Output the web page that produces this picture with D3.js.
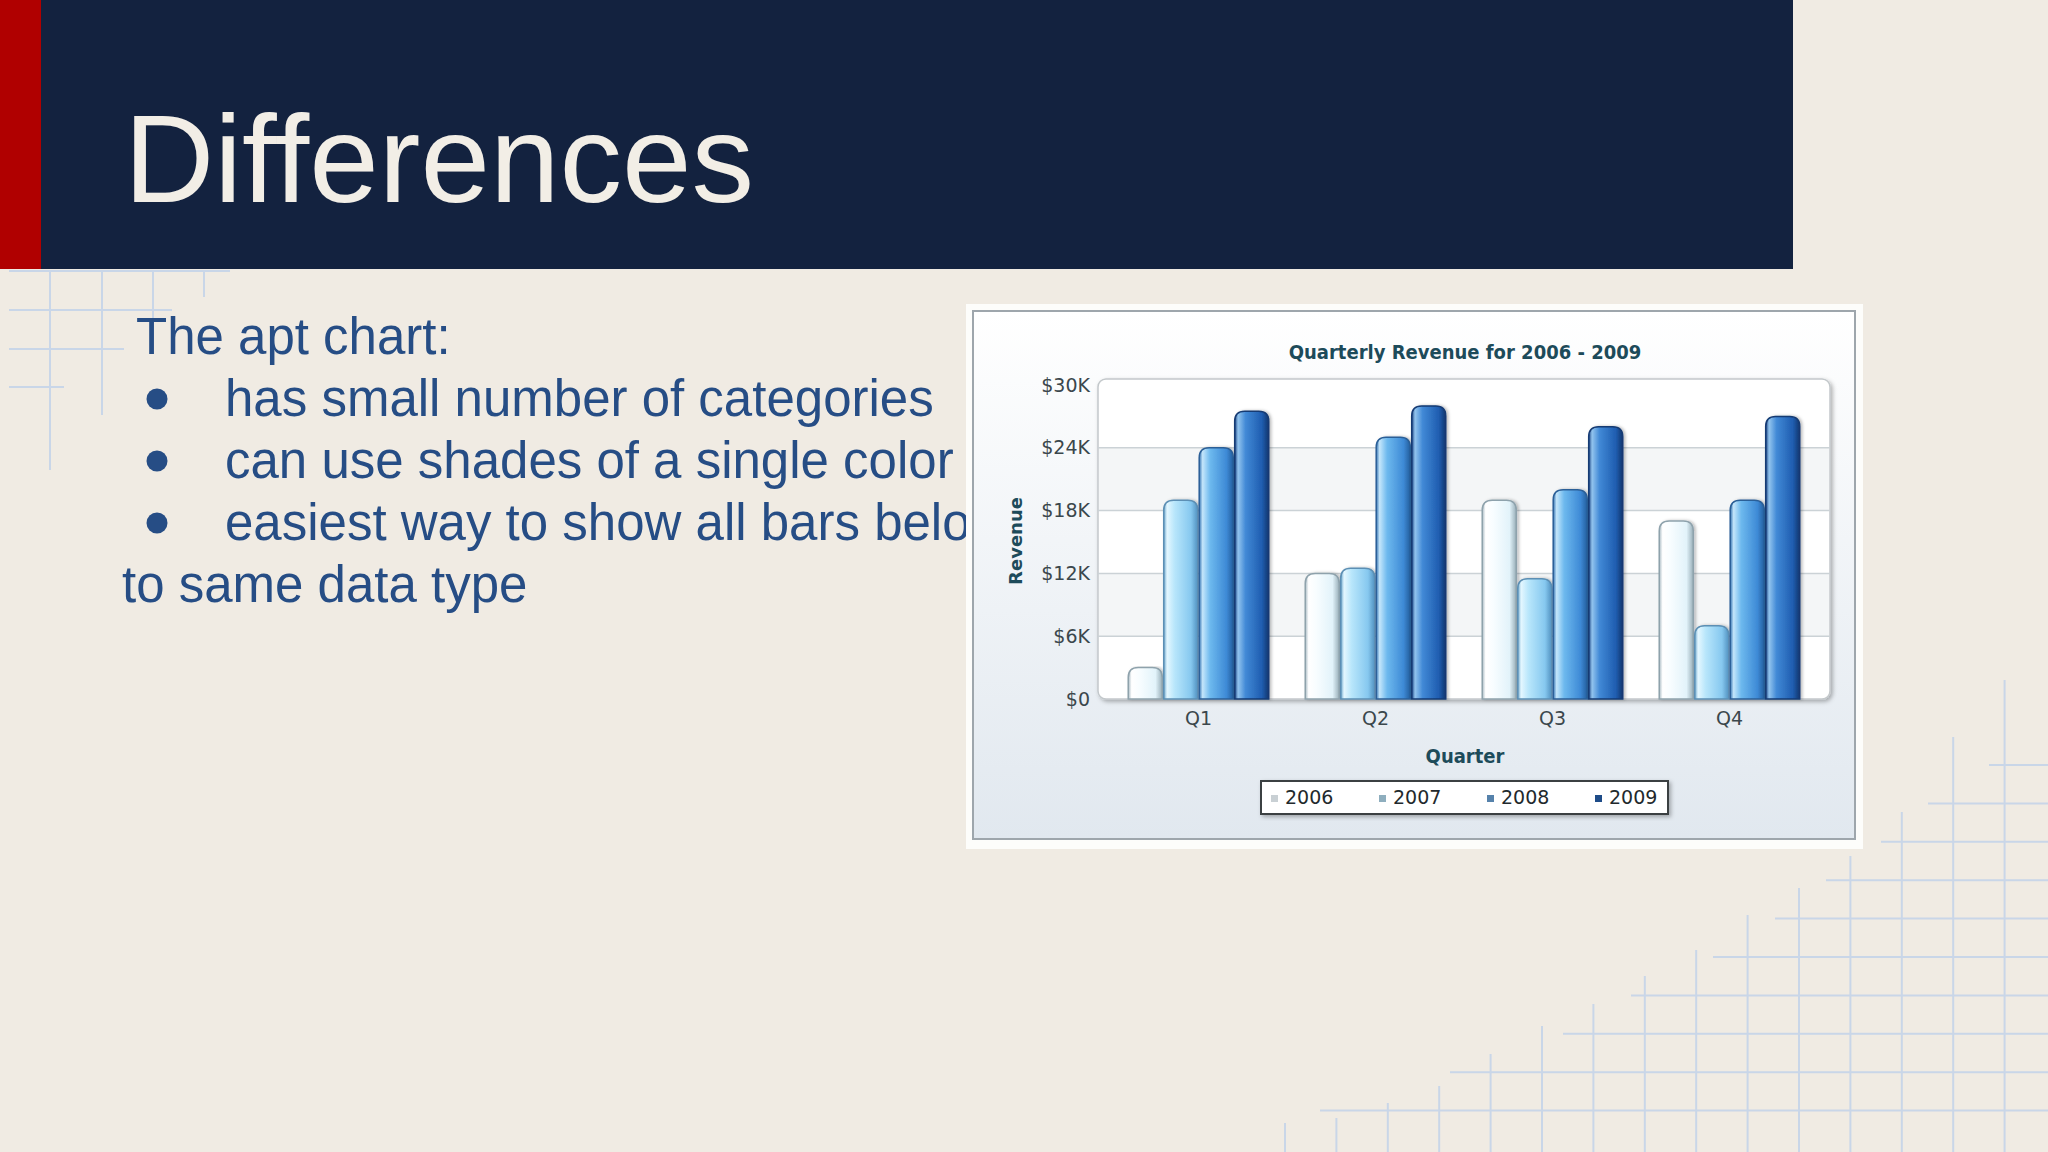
<!DOCTYPE html>
<html>
<head>
<meta charset="utf-8">
<script src="https://cdnjs.cloudflare.com/ajax/libs/d3/7.8.5/d3.min.js"></script>
<style>
  html, body { margin: 0; padding: 0; background: #f0ebe3; }
  svg { display: block; }
</style>
</head>
<body>
<div id="slide"></div>
<script>
// slide text
var slideTitle = "Differences";
var bodyLines = [
  { text: "The apt chart:", bullet: false, indent: 136 },
  { text: "has small number of categories", bullet: true, indent: 225 },
  { text: "can use shades of a single color", bullet: true, indent: 225 },
  { text: "easiest way to show all bars belong", bullet: true, indent: 225 },
  { text: "to same data type", bullet: false, indent: 122 }
];

// chart data
var quarters = ["Q1", "Q2", "Q3", "Q4"];
var years = ["2006", "2007", "2008", "2009"];
var rev2006 = [3000, 12000, 19000, 17000];
var rev2007 = [19000, 12500, 11500, 7000];
var rev2008 = [24000, 25000, 20000, 19000];
var rev2009 = [27500, 28000, 26000, 27000];
var yTicks = [0, 6000, 12000, 18000, 24000, 30000];
var chartTitle = "Quarterly Revenue for 2006 - 2009";

var W = 2048, H = 1152;
var svg = d3.select("#slide").append("svg")
    .attr("width", W)
    .attr("height", H);

var defs = svg.append("defs");

// background
svg.append("rect").attr("width", W).attr("height", H).attr("fill", "#f0ebe3");

// decorative grid, top left
var deco = svg.append("g")
    .attr("stroke", "#c9d6e8")
    .attr("stroke-width", 2);
[[271, 230], [310, 172], [349, 124], [387, 64]].forEach(function (h) {
  deco.append("line").attr("x1", 9).attr("x2", h[1]).attr("y1", h[0]).attr("y2", h[0]);
});
[[50, 470], [102, 415], [153, 340], [204, 297]].forEach(function (v) {
  deco.append("line").attr("x1", v[0]).attr("x2", v[0]).attr("y1", 271).attr("y2", v[1]);
});

// decorative grid, bottom right
var vTops = [1123, 1118, 1103, 1086, 1054, 1026, 1004, 976, 950, 915, 888, 856, 812, 737, 680];
vTops.forEach(function (t, i) {
  var x = 1285 + 51.4 * i;
  deco.append("line").attr("x1", x).attr("x2", x).attr("y1", t).attr("y2", H);
});
var hStarts = [1989, 1928, 1881, 1826, 1775, 1713, 1631, 1563, 1450, 1320];
hStarts.forEach(function (s, i) {
  var y = 765 + 38.4 * i;
  deco.append("line").attr("x1", s).attr("x2", W).attr("y1", y).attr("y2", y);
});

// header
svg.append("rect").attr("x", 0).attr("y", 0).attr("width", 1793).attr("height", 269).attr("fill", "#13223f");
svg.append("rect").attr("x", 0).attr("y", 0).attr("width", 41).attr("height", 269).attr("fill", "#b00000");
svg.append("text")
    .attr("x", 124).attr("y", 202)
    .attr("font-family", "'Liberation Sans', Arial, sans-serif")
    .attr("font-size", 125)
    .attr("fill", "#f2eee6")
    .text(slideTitle);

// body text
var body = svg.append("g")
    .attr("font-family", "'Liberation Sans', Arial, sans-serif")
    .attr("font-size", 51)
    .attr("fill", "#264d85");
body.selectAll("text.line")
  .data(bodyLines)
  .enter().append("text")
    .attr("class", "line")
    .attr("x", function (d) { return d.indent; })
    .attr("y", function (d, i) { return 354 + i * 62; })
    .text(function (d) { return d.text; });
body.selectAll("circle.bul")
  .data(bodyLines.filter(function (d) { return d.bullet; }))
  .enter().append("circle")
    .attr("class", "bul")
    .attr("cx", 157)
    .attr("cy", function (d) { return 354 + bodyLines.indexOf(d) * 62 - 17; })
    .attr("r", 10.5);

// ---- chart picture ----
var panelGrad = defs.append("linearGradient").attr("id", "panelGrad")
    .attr("x1", 0).attr("y1", 0).attr("x2", 0).attr("y2", 1);
panelGrad.append("stop").attr("offset", "0%").attr("stop-color", "#ffffff");
panelGrad.append("stop").attr("offset", "100%").attr("stop-color", "#e1e8ef");

var shadow = defs.append("filter").attr("id", "shadow")
    .attr("x", "-10%").attr("y", "-10%").attr("width", "130%").attr("height", "130%");
shadow.append("feDropShadow").attr("dx", 2).attr("dy", 2).attr("stdDeviation", 2)
    .attr("flood-color", "#000").attr("flood-opacity", 0.3);

var barShadow = defs.append("filter").attr("id", "barShadow")
    .attr("x", "-20%").attr("y", "-5%").attr("width", "150%").attr("height", "115%");
barShadow.append("feDropShadow").attr("dx", 2).attr("dy", 0).attr("stdDeviation", 1.5)
    .attr("flood-color", "#000").attr("flood-opacity", 0.25);

svg.append("rect").attr("x", 966).attr("y", 304).attr("width", 897).attr("height", 545).attr("fill", "#fdfdfb");
svg.append("rect").attr("x", 973).attr("y", 311).attr("width", 882).attr("height", 528)
    .attr("fill", "url(#panelGrad)")
    .attr("stroke", "#9ea6ac").attr("stroke-width", 2);

var chart = svg.append("g");

var y = d3.scaleLinear().domain([0, 30000]).range([699, 385]);
var x0 = d3.scaleBand().domain(quarters).range([1110, 1818]).paddingInner(0.19).paddingOuter(0.095);
var x1 = d3.scaleBand().domain(years).range([0, x0.bandwidth()]).padding(0.04);

var plotL = 1098, plotR = 1830, plotT = 379;

// plot area
chart.append("rect")
    .attr("x", plotL).attr("y", plotT)
    .attr("width", plotR - plotL).attr("height", y(0) - plotT)
    .attr("rx", 8)
    .attr("fill", "#ffffff")
    .attr("stroke", "#c3c8cb").attr("stroke-width", 1.5)
    .attr("filter", "url(#shadow)");

// alternate bands
chart.selectAll("rect.band")
  .data([[18000, 24000], [6000, 12000]])
  .enter().append("rect")
    .attr("class", "band")
    .attr("x", plotL + 1).attr("width", plotR - plotL - 2)
    .attr("y", function (d) { return y(d[1]); })
    .attr("height", function (d) { return y(d[0]) - y(d[1]); })
    .attr("fill", "#f4f6f7");

// grid lines
chart.selectAll("line.grid")
  .data(yTicks.slice(1, -1))
  .enter().append("line")
    .attr("class", "grid")
    .attr("x1", plotL).attr("x2", plotR)
    .attr("y1", function (d) { return y(d); })
    .attr("y2", function (d) { return y(d); })
    .attr("stroke", "#cbd2d6").attr("stroke-width", 1.5);

// y axis
var yAxis = chart.append("g")
    .attr("transform", "translate(" + plotL + ",0)")
    .call(d3.axisLeft(y).tickValues(yTicks).tickSize(0).tickPadding(8)
      .tickFormat(function (d) { return d === 0 ? "$0" : "$" + d / 1000 + "K"; }));
yAxis.select(".domain").remove();
yAxis.selectAll("text")
    .attr("font-family", "'DejaVu Sans', Verdana, sans-serif")
    .attr("font-size", 19)
    .attr("fill", "#3b474c");

// x axis
var xAxis = chart.append("g")
    .attr("transform", "translate(0," + y(0) + ")")
    .call(d3.axisBottom(x0).tickSize(0).tickPadding(13));
xAxis.select(".domain").remove();
xAxis.selectAll("text")
    .attr("font-family", "'DejaVu Sans', sans-serif")
    .attr("font-size", 19)
    .attr("fill", "#3b474c");

// bar gradients
var barStyles = {
  "2006": { stroke: "#8ea2ac", stops: ["#a8bac3", "#ffffff", "#f8fdff", "#e2f3fa", "#98aeb8"] },
  "2007": { stroke: "#5b8fb4", stops: ["#6aa6cc", "#e4f7ff", "#b8e6fb", "#86c8ef", "#5291c0"] },
  "2008": { stroke: "#2b5f97", stops: ["#3472b2", "#c4e6fb", "#6db9ee", "#3e8ad6", "#245f9e"] },
  "2009": { stroke: "#143a73", stops: ["#1b4585", "#92c4ee", "#4189d6", "#1f5db0", "#12376e"] }
};
var offsets = ["0%", "10%", "32%", "80%", "100%"];
years.forEach(function (yr) {
  var g = defs.append("linearGradient").attr("id", "bar" + yr)
      .attr("x1", 0).attr("y1", 0).attr("x2", 1).attr("y2", 0);
  barStyles[yr].stops.forEach(function (c, i) {
    g.append("stop").attr("offset", offsets[i]).attr("stop-color", c);
  });
});

var series = { "2006": rev2006, "2007": rev2007, "2008": rev2008, "2009": rev2009 };

function barPath(x, top, w, bottom) {
  var r = Math.min(10, w / 2, (bottom - top));
  return "M" + x + "," + bottom +
    "V" + (top + r) +
    "Q" + x + "," + top + " " + (x + r) + "," + top +
    "H" + (x + w - r) +
    "Q" + (x + w) + "," + top + " " + (x + w) + "," + (top + r) +
    "V" + bottom + "Z";
}

var groups = chart.selectAll("g.quarter")
  .data(quarters)
  .enter().append("g")
    .attr("class", "quarter")
    .attr("transform", function (q) { return "translate(" + x0(q) + ",0)"; });

groups.selectAll("path")
  .data(function (q, qi) {
    return years.map(function (yr) { return { year: yr, value: series[yr][qi] }; });
  })
  .enter().append("path")
    .attr("d", function (d) { return barPath(x1(d.year), y(d.value), x1.bandwidth(), y(0)); })
    .attr("fill", function (d) { return "url(#bar" + d.year + ")"; })
    .attr("stroke", function (d) { return barStyles[d.year].stroke; })
    .attr("stroke-width", 1.5)
    .attr("filter", "url(#barShadow)");

// titles
var titleFont = "'DejaVu Sans Condensed', 'DejaVu Sans', sans-serif";
chart.append("text")
    .attr("x", 1465).attr("y", 352).attr("dy", "0.35em")
    .attr("text-anchor", "middle")
    .attr("font-family", titleFont).attr("font-weight", "bold").attr("font-size", 20)
    .attr("fill", "#1d4b5a")
    .text(chartTitle);
chart.append("text")
    .attr("transform", "translate(1016,541) rotate(-90)")
    .attr("dy", "0.35em")
    .attr("text-anchor", "middle")
    .attr("font-family", "'DejaVu Sans', sans-serif").attr("font-weight", "bold").attr("font-size", 18)
    .attr("fill", "#1d4b5a")
    .text("Revenue");
chart.append("text")
    .attr("x", 1465).attr("y", 756).attr("dy", "0.35em")
    .attr("text-anchor", "middle")
    .attr("font-family", titleFont).attr("font-weight", "bold").attr("font-size", 20)
    .attr("fill", "#1d4b5a")
    .text("Quarter");

// legend
var legendColors = ["#c9d0d4", "#8eaebe", "#5682ab", "#1e4c88"];
chart.append("rect")
    .attr("x", 1261).attr("y", 781).attr("width", 407).attr("height", 33)
    .attr("fill", "#ffffff")
    .attr("stroke", "#3a4043").attr("stroke-width", 2)
    .attr("filter", "url(#shadow)");
var items = chart.selectAll("g.legend")
  .data(years)
  .enter().append("g")
    .attr("class", "legend")
    .attr("transform", function (d, i) { return "translate(" + (1271 + i * 108) + ",797)"; });
items.append("rect")
    .attr("x", 0).attr("y", -2).attr("width", 7).attr("height", 7)
    .attr("fill", function (d, i) { return legendColors[i]; });
items.append("text")
    .attr("x", 14).attr("dy", "0.35em")
    .attr("font-family", "'DejaVu Sans', sans-serif").attr("font-size", 19)
    .attr("fill", "#22292c")
    .text(function (d) { return d; });
</script>
</body>
</html>
